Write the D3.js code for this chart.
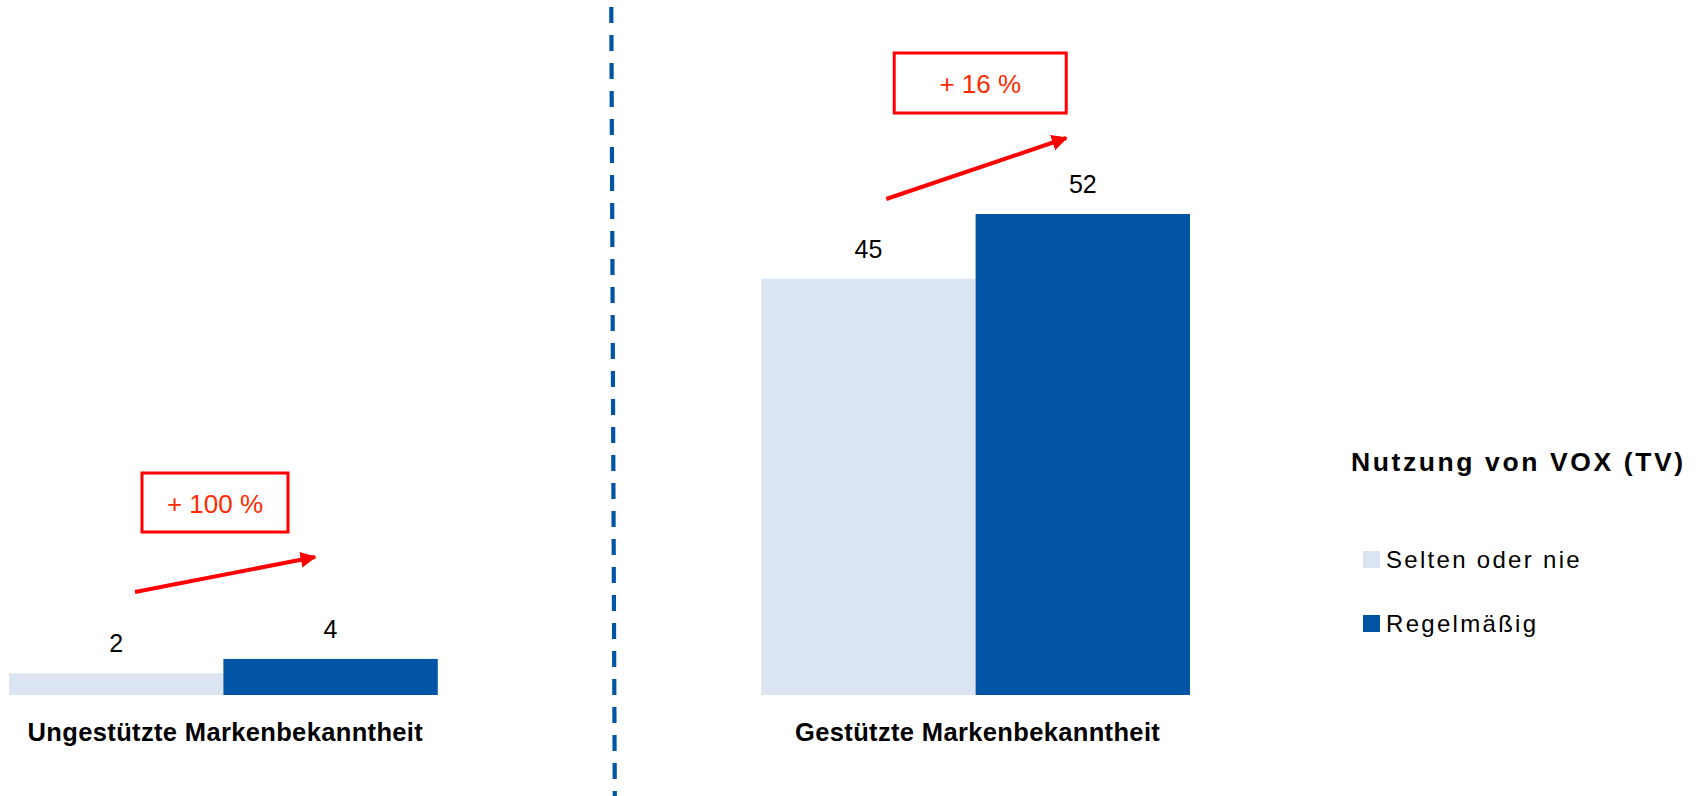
<!DOCTYPE html>
<html>
<head>
<meta charset="utf-8">
<script src="https://cdn.jsdelivr.net/npm/d3@7"></script>
<style>
  html, body { margin: 0; padding: 0; background: #fff; }
  svg { display: block; font-family: "Liberation Sans", Arial, sans-serif; }
</style>
</head>
<body>
<svg id="chart" width="1701" height="796"></svg>
<script>
// ---- data ----
const categories = ["Ungestützte Markenbekanntheit", "Gestützte Markenbekanntheit"];
const seriesNames = ["Selten oder nie", "Regelmäßig"];
const seltenValues = [2.35, 45];
const regelValues = [3.9, 52];
const changeLabels = ["+ 100 %", "+ 16 %"];
const legendTitle = "Nutzung von VOX (TV)";
const colors = ["#DAE5F1", "#0254A5"];

// ---- layout ----
const svg = d3.select("#chart");
const W = 1701, H = 796;
const baseY = 695;

const x0 = d3.scaleBand().domain(categories).range([9, 1190]).paddingInner(0.43).paddingOuter(0);
const x1 = d3.scaleBand().domain(seriesNames).range([0, x0.bandwidth()]).padding(0);
const y = d3.scaleLinear().domain([0, 60]).range([baseY, baseY - 60 * 9.25]);
const color = d3.scaleOrdinal().domain(seriesNames).range(colors);
const fmt = d3.format(".0f");

const rows = categories.map((c, i) => ({
  cat: c,
  values: [
    { s: seriesNames[0], v: seltenValues[i] },
    { s: seriesNames[1], v: regelValues[i] }
  ]
}));

// dashed separator (a little right of the gap centre, slightly slanted)
const sepX = (x0(categories[0]) + x0.bandwidth() + x0(categories[1])) / 2 + 13.5;
svg.append("line")
  .attr("x1", sepX - 1.7).attr("y1", 7)
  .attr("x2", sepX + 1.8).attr("y2", 800)
  .attr("stroke", "#0254A5").attr("stroke-width", 4.2)
  .attr("stroke-dasharray", "16 12");

// bars
const g = svg.selectAll("g.grp").data(rows).join("g")
  .attr("class", "grp")
  .attr("transform", d => `translate(${x0(d.cat)},0)`);

g.selectAll("rect").data(d => d.values).join("rect")
  .attr("x", d => x1(d.s))
  .attr("y", d => y(d.v))
  .attr("width", x1.bandwidth())
  .attr("height", d => y(0) - y(d.v))
  .attr("fill", d => color(d.s));

g.selectAll("text.val").data(d => d.values).join("text")
  .attr("class", "val")
  .attr("x", d => x1(d.s) + x1.bandwidth() / 2)
  .attr("y", d => y(d.v) - 21)
  .attr("text-anchor", "middle")
  .attr("font-size", 25)
  .attr("fill", "#000")
  .text(d => fmt(d.v));

// category labels
svg.selectAll("text.cat").data(categories).join("text")
  .attr("class", "cat")
  .attr("x", d => x0(d) + x0.bandwidth() / 2 + 2)
  .attr("y", 741)
  .attr("text-anchor", "middle")
  .attr("font-size", 25.5)
  .attr("font-weight", "bold")
  .attr("letter-spacing", 0.35)
  .attr("fill", "#000")
  .text(d => d);

// annotations (layout per group, relative to band start)
const annLayout = [
  { boxX: 133, boxY: 473, boxW: 146, boxH: 59, ax1: 126, ay1: 592, ax2: 306, ay2: 557 },
  { boxX: 133, boxY: 53, boxW: 172, boxH: 60, ax1: 125, ay1: 199, ax2: 305, ay2: 138 }
];

const defs = svg.append("defs");
defs.append("marker")
  .attr("id", "arrowhead")
  .attr("viewBox", "0 0 10 10")
  .attr("refX", 9).attr("refY", 5)
  .attr("markerWidth", 4).attr("markerHeight", 4)
  .attr("markerUnits", "strokeWidth")
  .attr("orient", "auto")
  .append("path")
  .attr("d", "M0,0 L10,5 L0,10 Z")
  .attr("fill", "#FF0000");

categories.forEach((c, i) => {
  const L = annLayout[i];
  const bx = x0(c);
  svg.append("rect")
    .attr("x", bx + L.boxX).attr("y", L.boxY)
    .attr("width", L.boxW).attr("height", L.boxH)
    .attr("fill", "none").attr("stroke", "#FF0000").attr("stroke-width", 3);
  svg.append("text")
    .attr("x", bx + L.boxX + L.boxW / 2)
    .attr("y", L.boxY + 39.5)
    .attr("text-anchor", "middle")
    .attr("font-size", 26)
    .attr("fill", "#FF2A00")
    .text(changeLabels[i]);
  svg.append("line")
    .attr("x1", bx + L.ax1).attr("y1", L.ay1)
    .attr("x2", bx + L.ax2).attr("y2", L.ay2)
    .attr("stroke", "#FF0000").attr("stroke-width", 4)
    .attr("marker-end", "url(#arrowhead)");
});

// legend
const leg = svg.append("g");
leg.append("text")
  .attr("x", 1351).attr("y", 471)
  .attr("font-size", 26.5).attr("font-weight", "bold")
  .attr("letter-spacing", 2.6)
  .attr("fill", "#000")
  .text(legendTitle);

const legItems = leg.selectAll("g.item").data(seriesNames).join("g")
  .attr("class", "item")
  .attr("transform", (d, i) => `translate(1363, ${551 + i * 64})`);
legItems.append("rect")
  .attr("width", 17).attr("height", 17)
  .attr("fill", d => color(d));
legItems.append("text")
  .attr("x", 23).attr("y", 16.5)
  .attr("font-size", 24)
  .attr("letter-spacing", 2.3)
  .attr("fill", "#000")
  .text(d => d);
</script>
</body>
</html>
